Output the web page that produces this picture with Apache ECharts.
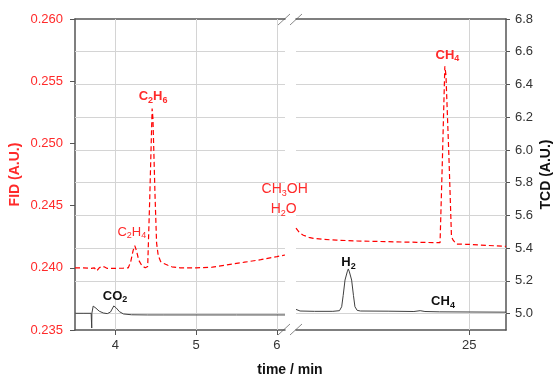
<!DOCTYPE html>
<html>
<head>
<meta charset="utf-8">
<script src="https://cdn.jsdelivr.net/npm/echarts@6/dist/echarts.min.js"></script>
<style>
  html, body { margin: 0; padding: 0; background: #fff; }
  #chart { width: 557px; height: 378px; }
</style>
</head>
<body>
<div id="chart"></div>
<script>
// FID signal (red dashed), early window 3.5 - 6.1 min
const fidEarlyTime = [3.50, 3.60, 3.70, 3.74, 3.77, 3.78, 3.80, 3.83, 3.86, 3.90,
  4.00, 4.10, 4.16, 4.19, 4.22, 4.24, 4.26, 4.29, 4.33, 4.37,
  4.40, 4.425, 4.455, 4.465, 4.49, 4.50, 4.51, 4.53, 4.56, 4.60,
  4.65, 4.70, 4.80, 5.00, 5.20, 5.40, 5.60, 5.80, 6.00, 6.10]
const fidEarlyValue = [0.2400, 0.2400, 0.23995, 0.2400, 0.23975, 0.2398, 0.2400, 0.24012, 0.24008, 0.23995,
  0.23995, 0.23998, 0.2400, 0.2405, 0.2414, 0.24178, 0.2414, 0.2406, 0.24015, 0.2400,
  0.2401, 0.2455, 0.2528, 0.2520, 0.2460, 0.2440, 0.2420, 0.2410, 0.2405, 0.24035,
  0.2402, 0.24008, 0.2400, 0.2400, 0.24005, 0.24025, 0.24045, 0.24065, 0.2409, 0.24103]

// TCD signal (black), early window
const tcdEarlyTime = [3.50, 3.60, 3.70, 3.705, 3.707, 3.709, 3.725, 3.76, 3.80, 3.85,
  3.90, 3.94, 3.98, 4.01, 4.05, 4.10, 4.20, 4.40, 4.60, 5.00, 5.50, 6.10]
const tcdEarlyValue = [5.002, 5.002, 5.002, 5.002, 4.912, 5.002, 5.046, 5.033, 5.015, 5.004,
  5.000, 5.010, 5.047, 5.035, 5.012, 4.998, 4.993, 4.992, 4.992, 4.992, 4.992, 4.992]

// FID signal, late window 20.3 - 26 min
const fidLateTime = [20.30, 20.40, 20.50, 20.65, 20.77, 21.03, 21.40, 21.95, 22.76, 23.58,
  24.21, 24.27, 24.34, 24.37, 24.45, 24.52, 24.57, 24.66, 24.93, 25.50, 26.00]
const fidLateValue = [0.24318, 0.24280, 0.24262, 0.24245, 0.24237, 0.24229, 0.24222, 0.24216, 0.24210, 0.24205,
  0.24202, 0.24830, 0.25620, 0.25550, 0.24900, 0.24250, 0.24220, 0.24191, 0.24189, 0.24180, 0.24172]

// TCD signal, late window
const tcdLateTime = [20.30, 20.41, 20.80, 21.30, 21.48, 21.54, 21.58, 21.63, 21.69, 21.72,
  21.75, 21.81, 21.86, 21.90, 21.96, 22.05, 22.80, 23.50, 23.67, 23.80, 24.20, 25.00, 26.00]
const tcdLateValue = [5.026, 5.016, 5.014, 5.014, 5.018, 5.042, 5.110, 5.205, 5.255, 5.273,
  5.255, 5.205, 5.110, 5.042, 5.020, 5.016, 5.015, 5.013, 5.018, 5.013, 5.011, 5.010, 5.009]

// axis ticks
const earlyTimeTicks = [4, 5, 6]
const lateTimeTicks = [25]
const fidTicks = [0.235, 0.240, 0.245, 0.250, 0.255, 0.260]
const tcdTicks = [5.0, 5.2, 5.4, 5.6, 5.8, 6.0, 6.2, 6.4, 6.6, 6.8]

const FONT = 'Liberation Sans, Arial, sans-serif'
const RED = '#ff0000'
const RED_TEXT = '#ff2a2a'
const DARK = '#333333'
const AXIS = '#555555'
const GRIDLINE = '#d4d4d4'

function zip(xs, ys) {
  return xs.map((x, i) => [x, ys[i]])
}

// 'C_2H_6' -> rich text with subscripts
function chem(text) {
  return text.split(/_(\d)/).map((p, i) => {
    if (!p) return ''
    return i % 2 ? '{s|' + p + '}' : '{m|' + p + '}'
  }).join('')
}

function chemLabel(text, color, bold, size) {
  const weight = bold ? 'bold' : 'normal'
  return {
    show: true,
    position: 'inside',
    offset: [0, 1],
    formatter: chem(text),
    rich: {
      m: { fontSize: size, fontWeight: weight, color: color, fontFamily: FONT, lineHeight: size, verticalAlign: 'top' },
      s: { fontSize: 9, fontWeight: weight, color: color, fontFamily: FONT, lineHeight: size + 2, verticalAlign: 'bottom' },
    },
  }
}

function peak(text, coord, color, bold, size) {
  return { coord: coord, symbol: 'circle', symbolSize: 0, label: chemLabel(text, color, bold, size) }
}

function gridLines(xs) {
  const data = xs.map((v) => ({ xAxis: v }))
  tcdTicks.filter((v) => v < 6.8).forEach((v) => data.push({ yAxis: v }))
  return {
    silent: true,
    symbol: ['none', 'none'],
    animation: false,
    z: 1,
    label: { show: false },
    lineStyle: { color: GRIDLINE, type: 'solid', width: 1 },
    emphasis: { disabled: true },
    data: data,
  }
}

function timeAxis(gridIndex, min, max, ticks) {
  return {
    type: 'value',
    gridIndex: gridIndex,
    position: 'bottom',
    min: min,
    max: max,
    axisLine: { show: true, onZero: false, lineStyle: { color: AXIS, width: 1.5 } },
    axisTick: { show: true, customValues: ticks, length: 5, lineStyle: { color: AXIS } },
    axisLabel: { customValues: ticks, color: DARK, fontSize: 13, fontFamily: FONT, margin: 9 },
    splitLine: { show: false },
  }
}

function topBorder(gridIndex, min, max) {
  return {
    type: 'value',
    gridIndex: gridIndex,
    position: 'top',
    min: min,
    max: max,
    axisLine: { show: true, onZero: false, lineStyle: { color: AXIS, width: 1.5 } },
    axisTick: { show: false },
    axisLabel: { show: false },
    splitLine: { show: false },
  }
}

const chart = echarts.init(document.getElementById('chart'), null, { renderer: 'canvas' })

const option = {
  animation: false,
  backgroundColor: '#ffffff',
  grid: [
    { left: 75, top: 19, width: 210, height: 311, outerBoundsMode: 'none' },
    { left: 296, top: 19, width: 210, height: 311, outerBoundsMode: 'none' },
  ],
  xAxis: [
    timeAxis(0, 3.5, 6.1, earlyTimeTicks),
    timeAxis(1, 20.3, 26, lateTimeTicks),
    topBorder(0, 3.5, 6.1),
    topBorder(1, 20.3, 26),
  ],
  yAxis: [
    {
      type: 'value',
      gridIndex: 0,
      position: 'left',
      min: 0.235,
      max: 0.260,
      name: 'FID (A.U.)',
      nameLocation: 'middle',
      nameRotate: 90,
      nameGap: 53,
      nameTextStyle: { color: RED_TEXT, fontWeight: 'bold', fontSize: 14, fontFamily: FONT },
      axisLine: { show: true, lineStyle: { color: AXIS, width: 1.5 } },
      axisTick: { show: true, customValues: fidTicks, length: 5, lineStyle: { color: AXIS } },
      axisLabel: { customValues: fidTicks, color: RED_TEXT, fontSize: 13, fontFamily: FONT, margin: 12,
        formatter: (v) => v.toFixed(3) },
      splitLine: { show: false },
    },
    { type: 'value', gridIndex: 0, show: false, min: 4.9, max: 6.8 },
    {
      type: 'value',
      gridIndex: 1,
      position: 'right',
      min: 4.9,
      max: 6.8,
      name: 'TCD (A.U.)',
      nameLocation: 'middle',
      nameRotate: 90,
      nameGap: 33,
      nameTextStyle: { color: '#111111', fontWeight: 'bold', fontSize: 14, fontFamily: FONT },
      axisLine: { show: true, lineStyle: { color: AXIS, width: 1.5 } },
      axisTick: { show: true, customValues: tcdTicks, length: 4, lineStyle: { color: AXIS } },
      axisLabel: { customValues: tcdTicks, color: DARK, fontSize: 13, fontFamily: FONT, margin: 9,
        formatter: (v) => v.toFixed(1) },
      splitLine: { show: false },
    },
    { type: 'value', gridIndex: 1, show: false, min: 0.235, max: 0.260 },
  ],
  graphic: [
    { type: 'text', x: 290, y: 370, style: { text: 'time / min', fill: '#111111', font: 'bold 14px ' + FONT, align: 'center', verticalAlign: 'middle' } },
    // axis break marks
    { type: 'line', shape: { x1: 278, y1: 25, x2: 290, y2: 14 }, style: { stroke: '#8a8a8a', lineWidth: 1 } },
    { type: 'line', shape: { x1: 290, y1: 25, x2: 302, y2: 14 }, style: { stroke: '#8a8a8a', lineWidth: 1 } },
    { type: 'line', shape: { x1: 278, y1: 335, x2: 290, y2: 324 }, style: { stroke: '#8a8a8a', lineWidth: 1 } },
    { type: 'line', shape: { x1: 290, y1: 335, x2: 302, y2: 324 }, style: { stroke: '#8a8a8a', lineWidth: 1 } },
  ],
  series: [
    { type: 'line', xAxisIndex: 0, yAxisIndex: 1, data: [], markLine: gridLines(earlyTimeTicks) },
    { type: 'line', xAxisIndex: 1, yAxisIndex: 2, data: [], markLine: gridLines(lateTimeTicks) },
    {
      name: 'TCD early',
      type: 'line',
      xAxisIndex: 0,
      yAxisIndex: 1,
      z: 3,
      showSymbol: false,
      symbol: 'none',
      lineStyle: { color: '#404040', width: 1 },
      data: zip(tcdEarlyTime, tcdEarlyValue),
      markPoint: { silent: true, animation: false, data: [peak('CO_2', [3.996, 5.108], '#111111', true, 13)] },
    },
    {
      name: 'FID early',
      type: 'line',
      xAxisIndex: 0,
      yAxisIndex: 0,
      z: 4,
      showSymbol: false,
      symbol: 'none',
      lineStyle: { color: RED, width: 1.2, type: [5, 3] },
      data: zip(fidEarlyTime, fidEarlyValue),
      markPoint: {
        silent: true,
        animation: false,
        data: [
          peak('C_2H_6', [4.466, 0.2538], RED_TEXT, true, 13),
          peak('C_2H_4', [4.203, 0.24288], RED_TEXT, false, 13),
          peak('CH_3OH', [6.096, 0.24633], RED_TEXT, false, 14),
          peak('H_2O', [6.084, 0.24473], RED_TEXT, false, 14),
        ],
      },
    },
    {
      name: 'TCD late',
      type: 'line',
      xAxisIndex: 1,
      yAxisIndex: 2,
      z: 3,
      showSymbol: false,
      symbol: 'none',
      lineStyle: { color: '#404040', width: 1 },
      data: zip(tcdLateTime, tcdLateValue),
      markPoint: {
        silent: true,
        animation: false,
        data: [
          peak('H_2', [21.725, 5.315], '#111111', true, 13),
          peak('CH_4', [24.29, 5.077], '#111111', true, 13),
        ],
      },
    },
    {
      name: 'FID late',
      type: 'line',
      xAxisIndex: 1,
      yAxisIndex: 3,
      z: 4,
      showSymbol: false,
      symbol: 'none',
      lineStyle: { color: RED, width: 1.2, type: [5, 3] },
      data: zip(fidLateTime, fidLateValue),
      markPoint: { silent: true, animation: false, data: [peak('CH_4', [24.41, 0.25711], RED_TEXT, true, 13)] },
    },
  ],
}

chart.setOption(option)
window.addEventListener('resize', () => {
  chart.resize()
})
</script>
</body>
</html>
